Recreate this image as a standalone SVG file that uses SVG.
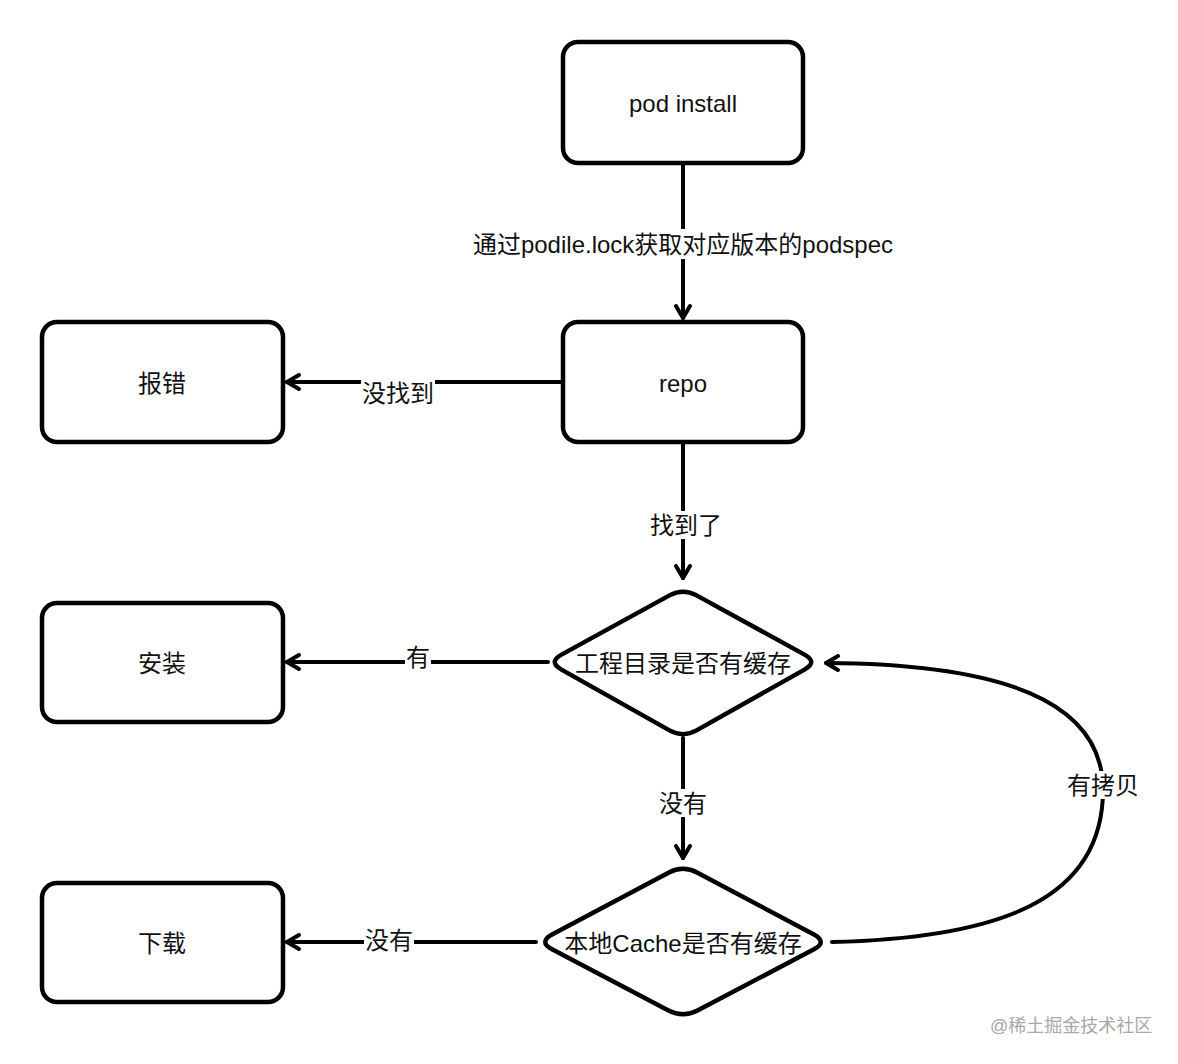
<svg xmlns="http://www.w3.org/2000/svg" width="1178" height="1064" viewBox="0 0 1178 1064">
  <style>
    .box { fill: #fff; stroke: #000; stroke-width: 4.5; stroke-linejoin: round; }
    .t { font-family: "Liberation Sans", "Noto Sans CJK SC", sans-serif; font-size: 24px; fill: #111; text-anchor: middle; dominant-baseline: central; }
    .edge { fill: none; stroke: #000; stroke-width: 4; stroke-linecap: round; }
    .bg { fill: #fff; stroke: none; }
    .wm { font-family: "Liberation Sans", "Noto Sans CJK SC", sans-serif; font-size: 18px; fill: #a8a8a8; }
  </style>
  <defs>
    <marker id="arr" viewBox="-16 -10 20 20" markerWidth="20" markerHeight="20" refX="0" refY="0" orient="auto" markerUnits="userSpaceOnUse">
      <path d="M-12,-7 L0,0 L-12,7" fill="none" stroke="#000" stroke-width="4" stroke-linecap="round" stroke-linejoin="round"/>
    </marker>
  </defs>
  <rect width="1178" height="1064" fill="#fff"/>

  <g id="connectors">
    <path class="edge" d="M683,163 L683,318" marker-end="url(#arr)"/>
    <path class="edge" d="M563,382 L287,382" marker-end="url(#arr)"/>
    <path class="edge" d="M683,442 L683,578" marker-end="url(#arr)"/>
    <path class="edge" d="M548,662 L287,662" marker-end="url(#arr)"/>
    <path class="edge" d="M683,738 L683,858" marker-end="url(#arr)"/>
    <path class="edge" d="M536,942 L287,942" marker-end="url(#arr)"/>
    <path class="edge" d="M832,942 C1000,938 1103,900 1103,790 C1103,700 1000,664 826,663" marker-end="url(#arr)"/>

    <rect class="bg" x="472" y="229" width="422" height="30"/>
    <text class="t" x="683" y="244">通过podile.lock获取对应版本的podspec</text>
    <rect class="bg" x="361" y="379" width="74" height="28"/>
    <text class="t" x="398" y="393">没找到</text>
    <rect class="bg" x="650" y="511" width="72" height="28"/>
    <text class="t" x="686" y="525">找到了</text>
    <rect class="bg" x="405" y="643" width="26" height="28"/>
    <text class="t" x="418" y="657">有</text>
    <rect class="bg" x="658" y="789" width="50" height="28"/>
    <text class="t" x="683" y="803">没有</text>
    <rect class="bg" x="364" y="926" width="50" height="28"/>
    <text class="t" x="389" y="940">没有</text>
    <rect class="bg" x="1066" y="771" width="74" height="28"/>
    <text class="t" x="1103" y="785">有拷贝</text>
  </g>

  <g id="pod-install">
    <rect class="box" x="563" y="42" width="240" height="121" rx="15"/>
    <text class="t" x="683" y="103">pod install</text>
  </g>
  <g id="repo">
    <rect class="box" x="563" y="322" width="240" height="120" rx="15"/>
    <text class="t" x="683" y="383">repo</text>
  </g>
  <g id="error">
    <rect class="box" x="42" y="322" width="241" height="120" rx="15"/>
    <text class="t" x="162" y="383">报错</text>
  </g>
  <g id="install">
    <rect class="box" x="42" y="603" width="241" height="119" rx="15"/>
    <text class="t" x="162" y="663">安装</text>
  </g>
  <g id="download">
    <rect class="box" x="42" y="883" width="241" height="119" rx="15"/>
    <text class="t" x="162" y="943">下载</text>
  </g>
  <g id="project-cache">
    <path class="box" d="M696.5,595.4 L804.5,654.6 Q818,662 804.5,669.6 L696.5,730.4 Q683,738 669.5,730.4 L561.5,669.6 Q548,662 561.5,654.6 L669.5,595.4 Q683,588 696.5,595.4 Z"/>
    <text class="t" x="683" y="663">工程目录是否有缓存</text>
  </g>
  <g id="local-cache">
    <path class="box" d="M697.5,872.7 L813.5,934.3 Q828,942 813.5,949.6 L697.5,1010.4 Q683,1018 668.5,1010.4 L552.5,949.6 Q538,942 552.5,934.3 L668.5,872.7 Q683,865 697.5,872.7 Z"/>
    <text class="t" x="683" y="943">本地Cache是否有缓存</text>
  </g>

  <text class="wm" x="990" y="1032">@稀土掘金技术社区</text>
</svg>
